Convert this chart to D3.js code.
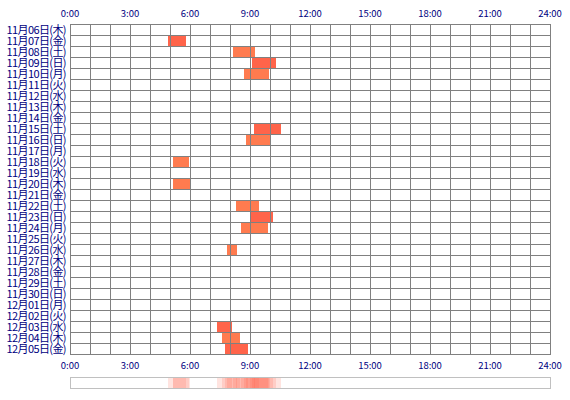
<!DOCTYPE html>
<html><head><meta charset="utf-8">
<script src="https://cdn.jsdelivr.net/npm/d3@7"></script>
<style>body{margin:0;background:#fff}</style>
</head><body>
<svg id="chart" width="570" height="400"></svg>
<script>
var days = ["11月06日(木)","11月07日(金)","11月08日(土)","11月09日(日)","11月10日(月)","11月11日(火)","11月12日(水)","11月13日(木)","11月14日(金)","11月15日(土)","11月16日(日)","11月17日(月)","11月18日(火)","11月19日(水)","11月20日(木)","11月21日(金)","11月22日(土)","11月23日(日)","11月24日(月)","11月25日(火)","11月26日(水)","11月27日(木)","11月28日(金)","11月29日(土)","11月30日(日)","12月01日(月)","12月02日(火)","12月03日(水)","12月04日(木)","12月05日(金)"];
var hourTicks = [0, 3, 6, 9, 12, 15, 18, 21, 24];
// sessions: day index, start hour, end hour, shade
var sessionDay   = [1, 2, 3, 4, 9, 10, 12, 14, 16, 17, 18, 20, 27, 28, 29];
var sessionStart = [4.9, 8.15, 9.1, 8.7, 9.2, 8.8, 5.15, 5.15, 8.3, 9.0, 8.55, 7.85, 7.35, 7.6, 7.75];
var sessionEnd   = [5.8, 9.25, 10.3, 9.95, 10.55, 10.0, 5.95, 6.0, 9.45, 10.15, 9.9, 8.35, 8.1, 8.5, 8.9];
var sessionShade = [0, 1, 0, 1, 0, 1, 1, 1, 1, 0, 1, 1, 0, 1, 0];
var shades = ["#ff644a", "#ff7b4f"];

var svg = d3.select("#chart");
var gLeft = 70, gRight = 550, gTop = 24, rowH = 11;
var x = d3.scaleLinear().domain([0, 24]).range([gLeft, gRight]);
var y = d3.scaleBand().domain(d3.range(days.length)).range([gTop, gTop + rowH * days.length]);
var gBottom = gTop + rowH * days.length;
var navy = "#000080";
var font = "'Noto Sans CJK JP', sans-serif";

// bars
svg.selectAll("rect.bar").data(sessionDay).enter().append("rect")
    .attr("x", function (d, i) { return x(sessionStart[i]); })
    .attr("width", function (d, i) { return x(sessionEnd[i]) - x(sessionStart[i]); })
    .attr("y", function (d) { return y(d); })
    .attr("height", rowH)
    .attr("fill", function (d, i) { return shades[sessionShade[i]]; });

// grid
var g = svg.append("g").attr("stroke", "#808080").attr("stroke-width", 1);
d3.range(25).forEach(function (h) {
    g.append("line").attr("x1", x(h) + 0.5).attr("x2", x(h) + 0.5).attr("y1", gTop).attr("y2", gBottom);
});
d3.range(days.length + 1).forEach(function (i) {
    g.append("line").attr("x1", gLeft).attr("x2", gRight + 1).attr("y1", gTop + i * rowH + 0.5).attr("y2", gTop + i * rowH + 0.5);
});

// day labels
svg.selectAll("text.day").data(days).enter().append("text")
    .attr("x", gLeft - 4).attr("y", function (d, i) { return y(i) + rowH / 2 + 4; })
    .attr("text-anchor", "end").attr("fill", navy)
    .style("font-family", font).style("font-size", "11px").style("letter-spacing", "-0.6px")
    .text(function (d) { return d; });

// hour labels top and bottom
[17, 369].forEach(function (ty) {
    svg.selectAll(null).data(hourTicks).enter().append("text")
        .attr("x", function (d) { return x(d); }).attr("y", ty)
        .attr("text-anchor", "middle").attr("fill", navy)
        .style("font-family", font).style("font-size", "9.5px")
        .text(function (d) { return d + ":00"; });
});

// density strip
var sy = 377, sh = 11;
svg.selectAll("rect.dens").data(sessionDay).enter().append("rect")
    .attr("x", function (d, i) { return x(sessionStart[i]); })
    .attr("width", function (d, i) { return x(sessionEnd[i]) - x(sessionStart[i]); })
    .attr("y", sy).attr("height", sh)
    .attr("fill", "#ff5a3c").attr("fill-opacity", 0.16);
svg.append("rect").attr("x", gLeft + 0.5).attr("y", sy + 0.5).attr("width", gRight - gLeft).attr("height", sh)
    .attr("fill", "none").attr("stroke", "#c0c0c0");
</script>
</body></html>
